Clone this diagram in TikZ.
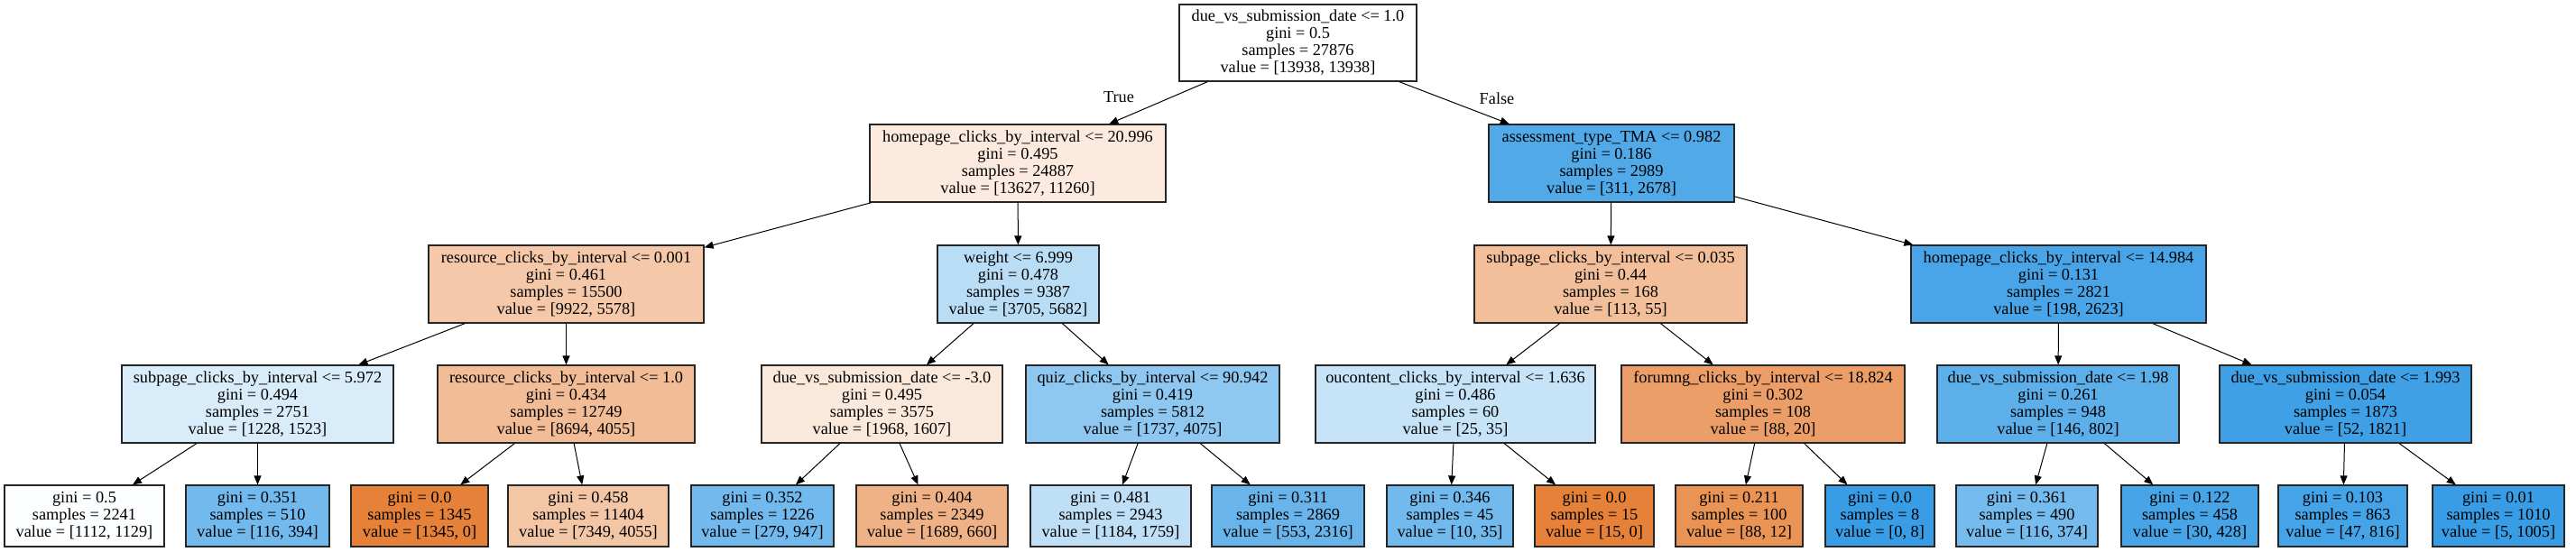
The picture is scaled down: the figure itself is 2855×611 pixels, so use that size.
\documentclass[tikz,border=0pt]{standalone}
\usepackage{fontspec}
\setmainfont{Liberation Serif}
\usetikzlibrary{arrows.meta}
\definecolor{clsA}{RGB}{229,129,57}
\definecolor{clsB}{RGB}{57,157,229}

\begin{document}
\begin{tikzpicture}[x=1pt, y=-1pt, >={Triangle[length=10pt,width=8pt]},
	font=\fontsize{18.3}{19}\selectfont,
	split/.style={draw=black!85, line width=1.2pt, align=center, inner sep=2pt, minimum height=86pt},
	leaf/.style={split, minimum height=68pt},
	edge/.style={->, line width=1pt}]
	
	\useasboundingbox (0,0) rectangle (2855,611);
	
	% root
	\node[split, fill=white, minimum width=263pt, minimum height=85pt] (root) at (1438.5,47.5)
	{due\_vs\_submission\_date <= 1.0\\gini = 0.5\\samples = 27876\\value = [13938, 13938]};
	
	% level 1
	\node[split, fill=clsA!17!white, minimum width=328pt] (hp1) at (1128,181)
	{homepage\_clicks\_by\_interval <= 20.996\\gini = 0.495\\samples = 24887\\value = [13627, 11260]};
	\node[split, fill=clsB!88!white, minimum width=272pt] (tma) at (1786,181)
	{assessment\_type\_TMA <= 0.982\\gini = 0.186\\samples = 2989\\value = [311, 2678]};
	
	\node (true) at (1240,108) {True};
	\node (false) at (1659,109) {False};
	
	% level 2
	\node[split, fill=clsA!44!white, minimum width=305pt] (res1) at (627.5,315)
	{resource\_clicks\_by\_interval <= 0.001\\gini = 0.461\\samples = 15500\\value = [9922, 5578]};
	\node[split, fill=clsB!35!white, minimum width=179pt] (wt) at (1128.5,315)
	{weight <= 6.999\\gini = 0.478\\samples = 9387\\value = [3705, 5682]};
	\node[split, fill=clsA!51!white, minimum width=302pt] (sub2) at (1785,315)
	{subpage\_clicks\_by\_interval <= 0.035\\gini = 0.44\\samples = 168\\value = [113, 55]};
	\node[split, fill=clsB!92!white, minimum width=327pt] (hp2) at (2281.5,315)
	{homepage\_clicks\_by\_interval <= 14.984\\gini = 0.131\\samples = 2821\\value = [198, 2623]};
	
	% level 3
	\node[split, fill=clsB!19!white, minimum width=301pt] (sub1) at (285.5,448)
	{subpage\_clicks\_by\_interval <= 5.972\\gini = 0.494\\samples = 2751\\value = [1228, 1523]};
	\node[split, fill=clsA!53!white, minimum width=285pt] (res2) at (627.5,448)
	{resource\_clicks\_by\_interval <= 1.0\\gini = 0.434\\samples = 12749\\value = [8694, 4055]};
	\node[split, fill=clsA!18!white, minimum width=267pt] (due2) at (977.5,448)
	{due\_vs\_submission\_date <= -3.0\\gini = 0.495\\samples = 3575\\value = [1968, 1607]};
	\node[split, fill=clsB!57!white, minimum width=281pt] (quiz) at (1277.5,448)
	{quiz\_clicks\_by\_interval <= 90.942\\gini = 0.419\\samples = 5812\\value = [1737, 4075]};
	\node[split, fill=clsB!29!white, minimum width=310pt] (ouc) at (1613,448)
	{oucontent\_clicks\_by\_interval <= 1.636\\gini = 0.486\\samples = 60\\value = [25, 35]};
	\node[split, fill=clsA!77!white, minimum width=314pt] (forum) at (1954,448)
	{forumng\_clicks\_by\_interval <= 18.824\\gini = 0.302\\samples = 108\\value = [88, 20]};
	\node[split, fill=clsB!82!white, minimum width=268pt] (due3) at (2281,448)
	{due\_vs\_submission\_date <= 1.98\\gini = 0.261\\samples = 948\\value = [146, 802]};
	\node[split, fill=clsB!97!white, minimum width=279pt] (due4) at (2599.5,448)
	{due\_vs\_submission\_date <= 1.993\\gini = 0.054\\samples = 1873\\value = [52, 1821]};
	
	% leaves
	\node[leaf, fill=clsB!2!white, minimum width=177pt] (l1) at (93.5,572)
	{gini = 0.5\\samples = 2241\\value = [1112, 1129]};
	\node[leaf, fill=clsB!71!white, minimum width=159pt] (l2) at (285.5,572)
	{gini = 0.351\\samples = 510\\value = [116, 394]};
	\node[leaf, fill=clsA, minimum width=152pt] (l3) at (465,572)
	{gini = 0.0\\samples = 1345\\value = [1345, 0]};
	\node[leaf, fill=clsA!45!white, minimum width=178pt] (l4) at (652,572)
	{gini = 0.458\\samples = 11404\\value = [7349, 4055]};
	\node[leaf, fill=clsB!71!white, minimum width=158pt] (l5) at (845,572)
	{gini = 0.352\\samples = 1226\\value = [279, 947]};
	\node[leaf, fill=clsA!61!white, minimum width=168pt] (l6) at (1033,572)
	{gini = 0.404\\samples = 2349\\value = [1689, 660]};
	\node[leaf, fill=clsB!33!white, minimum width=178pt] (l7) at (1231,572)
	{gini = 0.481\\samples = 2943\\value = [1184, 1759]};
	\node[leaf, fill=clsB!76!white, minimum width=169pt] (l8) at (1427.5,572)
	{gini = 0.311\\samples = 2869\\value = [553, 2316]};
	\node[leaf, fill=clsB!71!white, minimum width=140pt] (l9) at (1607,572)
	{gini = 0.346\\samples = 45\\value = [10, 35]};
	\node[leaf, fill=clsA, minimum width=132pt] (l10) at (1767,572)
	{gini = 0.0\\samples = 15\\value = [15, 0]};
	\node[leaf, fill=clsA!86!white, minimum width=141pt] (l11) at (1927.5,572)
	{gini = 0.211\\samples = 100\\value = [88, 12]};
	\node[leaf, fill=clsB, minimum width=121pt] (l12) at (2083.5,572)
	{gini = 0.0\\samples = 8\\value = [0, 8]};
	\node[leaf, fill=clsB!69!white, minimum width=157pt] (l13) at (2246.5,572)
	{gini = 0.361\\samples = 490\\value = [116, 374]};
	\node[leaf, fill=clsB!93!white, minimum width=152pt] (l14) at (2427,572)
	{gini = 0.122\\samples = 458\\value = [30, 428]};
	\node[leaf, fill=clsB!94!white, minimum width=143pt] (l15) at (2596.5,572)
	{gini = 0.103\\samples = 863\\value = [47, 816]};
	\node[leaf, fill=clsB!100!white, minimum width=146pt] (l16) at (2769,572)
	{gini = 0.01\\samples = 1010\\value = [5, 1005]};
	
	% edges
	\draw[edge] (root) -- (hp1);
	\draw[edge] (root) -- (tma);
	\draw[edge] (hp1) -- (res1);
	\draw[edge] (hp1) -- (wt);
	\draw[edge] (tma) -- (sub2);
	\draw[edge] (tma) -- (hp2);
	\draw[edge] (res1) -- (sub1);
	\draw[edge] (res1) -- (res2);
	\draw[edge] (wt) -- (due2);
	\draw[edge] (wt) -- (quiz);
	\draw[edge] (sub2) -- (ouc);
	\draw[edge] (sub2) -- (forum);
	\draw[edge] (hp2) -- (due3);
	\draw[edge] (hp2) -- (due4);
	\draw[edge] (sub1) -- (l1);
	\draw[edge] (sub1) -- (l2);
	\draw[edge] (res2) -- (l3);
	\draw[edge] (res2) -- (l4);
	\draw[edge] (due2) -- (l5);
	\draw[edge] (due2) -- (l6);
	\draw[edge] (quiz) -- (l7);
	\draw[edge] (quiz) -- (l8);
	\draw[edge] (ouc) -- (l9);
	\draw[edge] (ouc) -- (l10);
	\draw[edge] (forum) -- (l11);
	\draw[edge] (forum) -- (l12);
	\draw[edge] (due3) -- (l13);
	\draw[edge] (due3) -- (l14);
	\draw[edge] (due4) -- (l15);
	\draw[edge] (due4) -- (l16);
	
\end{tikzpicture}
\end{document}
